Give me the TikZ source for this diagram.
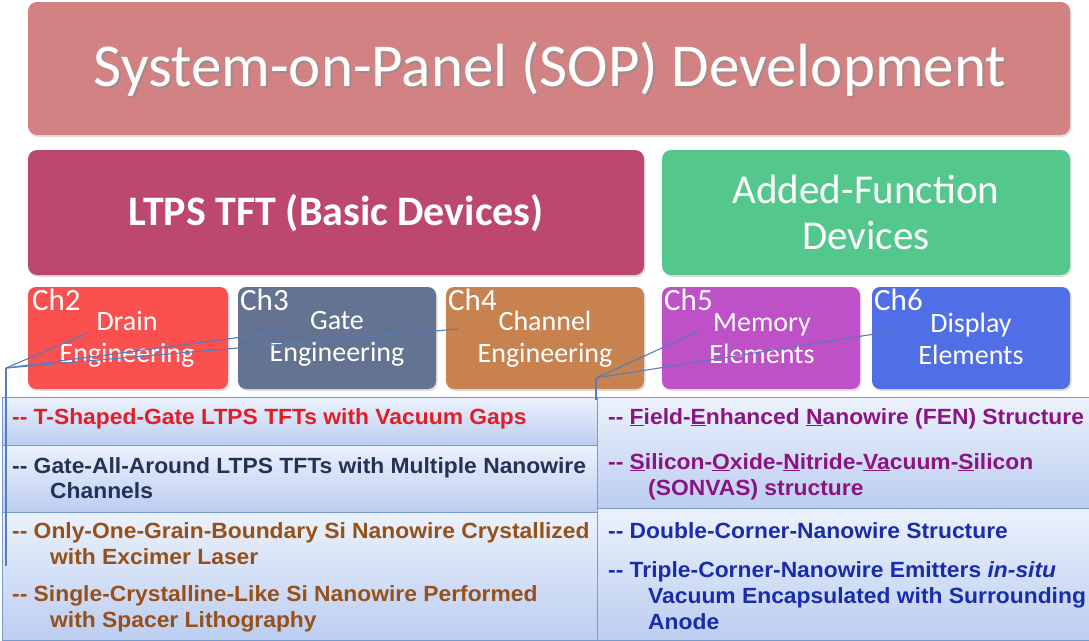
\documentclass[tikz,border=0pt]{standalone}
\usepackage{fontspec}
\setmainfont{Carlito}
\newfontfamily\arialb[FakeStretch=1.038, BoldFont={Liberation Sans Bold}, BoldItalicFont={Liberation Sans Bold Italic}]{Liberation Sans}
\usetikzlibrary{shadows}
\definecolor{titlefill}{RGB}{210,130,130}
\definecolor{ltpsfill}{RGB}{188,72,110}
\definecolor{addfill}{RGB}{84,200,140}
\definecolor{chtwo}{RGB}{250,80,80}
\definecolor{chthree}{RGB}{100,115,145}
\definecolor{chfour}{RGB}{200,130,80}
\definecolor{chfive}{RGB}{190,80,200}
\definecolor{chsix}{RGB}{80,110,230}
\definecolor{panelborder}{RGB}{120,155,205}
\definecolor{paneltop}{RGB}{236,242,252}
\definecolor{panelbot}{RGB}{188,205,240}
\definecolor{linkcol}{RGB}{85,125,185}
\definecolor{txtred}{RGB}{225,30,40}
\definecolor{txtnavy}{RGB}{35,50,85}
\definecolor{txtbrown}{RGB}{150,80,25}
\definecolor{txtpurple}{RGB}{140,20,130}
\definecolor{txtblue}{RGB}{25,45,170}
\tikzset{
  x=1pt, y=-1pt,
  bigbox/.style={rounded corners=9pt, drop shadow={opacity=0.25, shadow xshift=1.5pt, shadow yshift=-2pt}},
  chbox/.style={rounded corners=8pt, drop shadow={opacity=0.25, shadow xshift=1.5pt, shadow yshift=-2pt}},
  chlabel/.style={anchor=base west, inner sep=0, text=white, font=\fontsize{31}{31}\selectfont},
  chtext/.style={align=center, inner sep=0, text=white, font=\fontsize{28}{32}\selectfont},
  panel/.style={draw=panelborder, line width=0.8pt, top color=paneltop, bottom color=panelbot},
  item/.style={anchor=base west, inner sep=0, font=\arialb\bfseries\fontsize{22}{26}\selectfont},
  link/.style={draw=linkcol, line width=1.1pt}
}
\begin{document}
\begin{tikzpicture}
\useasboundingbox (0,0) rectangle (1089,640);
% title
\path[bigbox, fill=titlefill] (28,2) rectangle (1070,135);
\node[text=black!45, opacity=0.6, font=\fontsize{61}{61}\selectfont, inner sep=0] at (552,71) {System-on-Panel (SOP) Development};
\node (title) [text=white, font=\fontsize{61}{61}\selectfont, inner sep=0] at (550,69) {System-on-Panel (SOP) Development};
% second row
\path[bigbox, fill=ltpsfill] (28,150) rectangle (644,275);
\node (ltps) [text=white, font=\bfseries\fontsize{42}{42}\selectfont, inner sep=0] at (336,213) {LTPS TFT (Basic Devices)};
\path[bigbox, fill=addfill] (662,150) rectangle (1070,275);
\node (added) [text=white, align=center, font=\fontsize{41}{46}\selectfont, inner sep=0] at (866,212) {Added-Function\\Devices};
% chapter boxes
\path[chbox, fill=chtwo] (28,287) rectangle (228,389);
\path[chbox, fill=chthree] (238,287) rectangle (436,389);
\path[chbox, fill=chfour] (446,287) rectangle (644,389);
\path[chbox, fill=chfive] (662,287) rectangle (860,389);
\path[chbox, fill=chsix] (872,287) rectangle (1070,389);
\node (c2) [chlabel] at (32,310) {Ch2};
\node (c3) [chlabel] at (240,310) {Ch3};
\node (c4) [chlabel] at (448,310) {Ch4};
\node (c5) [chlabel] at (664,310) {Ch5};
\node (c6) [chlabel] at (874,310) {Ch6};
\node (drain) [chtext] at (127,339) {Drain\\Engineering};
\node (gate) [chtext] at (337,339) {Gate\\Engineering};
\node (chan) [chtext] at (545,339) {Channel\\Engineering};
\node (mem) [chtext] at (762,339) {Memory\\Elements};
\node (disp) [chtext] at (971,339) {Display\\Elements};
% lower panels
\path[panel] (2,397) rectangle (597,445);
\path[panel] (2,445) rectangle (597,512);
\path[panel] (2,512) rectangle (597,640);
\path[panel] (597,397) rectangle (1089,508);
\path[panel] (597,508) rectangle (1089,640);
% left items
\node (i1) [item, text=txtred] at (12,424) {-- T-Shaped-Gate LTPS TFTs with Vacuum Gaps};
\node (i2) [item, text=txtnavy] at (12,473) {-- Gate-All-Around LTPS TFTs with Multiple Nanowire};
\node (i2b) [item, text=txtnavy] at (50,498) {Channels};
\node (i3) [item, text=txtbrown] at (12,538) {-- Only-One-Grain-Boundary Si Nanowire Crystallized};
\node (i3b) [item, text=txtbrown] at (50,564) {with Excimer Laser};
\node (i4) [item, text=txtbrown] at (12,601) {-- Single-Crystalline-Like Si Nanowire Performed};
\node (i4b) [item, text=txtbrown] at (50,627) {with Spacer Lithography};
% right items
\node (j1) [item, text=txtpurple] at (608,424) {-- \underline{F}ield-\underline{E}nhanced \underline{N}anowire (FEN) Structure};
\node (j2) [item, text=txtpurple] at (608,469) {-- \underline{S}ilicon-\underline{O}xide-\underline{N}itride-\underline{Va}cuum-\underline{S}ilicon};
\node (j2b) [item, text=txtpurple] at (648,495) {(SONVAS) structure};
\node (j3) [item, text=txtblue] at (608,538) {-- Double-Corner-Nanowire Structure};
\node (j4) [item, text=txtblue] at (608,577) {-- Triple-Corner-Nanowire Emitters \textit{in-situ}};
\node (j4b) [item, text=txtblue] at (648,603) {Vacuum Encapsulated with Surrounding};
\node (j4c) [item, text=txtblue] at (648,629) {Anode};
% connectors
\coordinate (dA) at (88,333);
\coordinate (gA) at (288,331);
\coordinate (cA) at (458,329);
\coordinate (hubL) at (6,368);
\coordinate (lowL) at (6,566);
\coordinate (mA) at (697,332);
\coordinate (dpA) at (900,330);
\coordinate (hubR) at (596,378);
\coordinate (lowR) at (596,400);
\draw[link] (dA) -- (hubL);
\draw[link] (gA) -- (hubL);
\draw[link] (cA) -- (hubL);
\draw[link] (hubL) -- (lowL);
\draw[link] (mA) -- (hubR);
\draw[link] (dpA) -- (hubR);
\draw[link] (hubR) -- (lowR);
\end{tikzpicture}
\end{document}
